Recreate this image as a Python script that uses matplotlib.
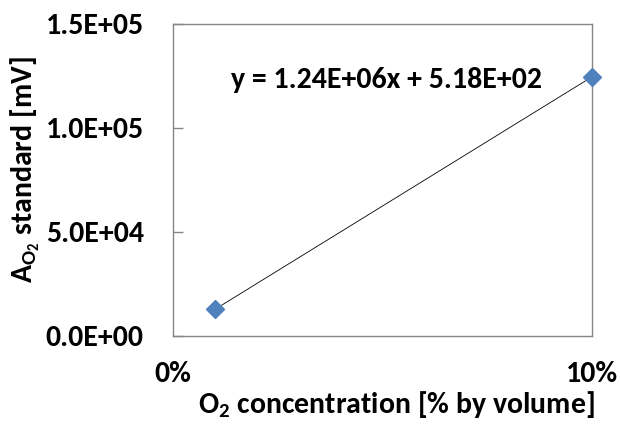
import numpy as np
import matplotlib
matplotlib.use("Agg")
import matplotlib.pyplot as plt
from matplotlib.ticker import FuncFormatter

# values
o2_conc = [0.01, 0.10]          # fraction by volume
a_o2 = [12800, 124600]          # mV
eq_text = "y = 1.24E+06x + 5.18E+02"
y_ticks = [0, 5e4, 1e5, 1.5e5]
x_ticks = [0.0, 0.1]

plt.rcParams['font.family'] = ['Carlito', 'DejaVu Sans']
plt.rcParams['font.weight'] = 'bold'
plt.rcParams['mathtext.fontset'] = 'custom'
plt.rcParams['mathtext.rm'] = 'Carlito:bold'
plt.rcParams['mathtext.it'] = 'Carlito:bold'
plt.rcParams['mathtext.bf'] = 'Carlito:bold'
plt.rcParams['mathtext.default'] = 'rm'

FS = 21.5

fig = plt.figure(figsize=(6.2, 4.32), dpi=100)
ax = fig.add_axes([173 / 620, 1 - 336 / 432, 419 / 620, 312 / 432])

# linear trendline over the data range
coef = np.polyfit(o2_conc, a_o2, 1)
xs = np.array([min(o2_conc), max(o2_conc)])
ax.plot(xs, np.polyval(coef, xs), color='black', linewidth=0.6, zorder=2)
ax.plot(o2_conc, a_o2, linestyle='none', marker='D', markersize=9.5,
        color='#4F81BD', markeredgecolor='#4F81BD', zorder=3, clip_on=False)

ax.set_xlim(0, 0.1)
ax.set_ylim(0, 1.5e5)
ax.set_xticks(x_ticks)
ax.set_yticks(y_ticks)
ax.xaxis.set_major_formatter(FuncFormatter(lambda v, p: f"{v * 100:.0f}%"))
ax.yaxis.set_major_formatter(FuncFormatter(lambda v, p: f"{v:.1E}"))
ax.tick_params(axis='x', length=0, pad=18, labelsize=FS)
ax.tick_params(axis='y', direction='in', length=7, width=1.0, color='#868686',
               pad=21, labelsize=FS)
for lab in ax.get_xticklabels() + ax.get_yticklabels():
    lab.set_fontweight('bold')

for s in ax.spines.values():
    s.set_color('#868686')
    s.set_linewidth(1.0)

ax.text(0.51, 0.82, eq_text, transform=ax.transAxes, ha='center', va='center',
        fontsize=FS, fontweight='bold')

ax.set_xlabel(r'O$_2$ concentration [% by volume]', fontsize=FS, fontweight='bold')
ax.xaxis.label.set_va('center')
ax.xaxis.set_label_coords(0.532, -0.221)
ax.set_ylabel(r'A$_{O_2}$ standard [mV]', fontsize=FS, fontweight='bold')
ax.yaxis.label.set_va('center')
ax.yaxis.set_label_coords(-0.353, 0.532)

fig.savefig('out.png', dpi=100)
